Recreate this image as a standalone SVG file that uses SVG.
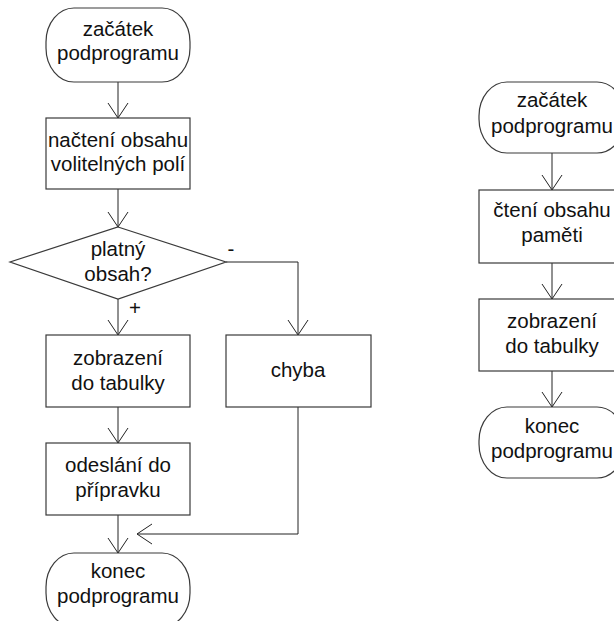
<svg xmlns="http://www.w3.org/2000/svg" width="614" height="621" viewBox="0 0 614 621">
  <style>
    .shape { fill: #ffffff; stroke: #3a3a3a; stroke-width: 1.2; }
    .conn { fill: none; stroke: #222222; stroke-width: 1; }
    text { font-family: "Liberation Sans", Arial, sans-serif; font-size: 20.5px; fill: #111111; text-anchor: middle; }
  </style>
  <defs>
    <marker id="v" viewBox="-17 -11 18 22" markerWidth="18" markerHeight="22" refX="0" refY="0" orient="auto" markerUnits="userSpaceOnUse">
      <path d="M-15,-10 L0,0 L-15,10" fill="none" stroke="#222222" stroke-width="1"/>
    </marker>
  </defs>

  <rect x="0" y="0" width="614" height="621" fill="#ffffff"/>

  <!-- connectors -->
  <g id="connectors">
    <path class="conn" d="M118,82 L118,118" marker-end="url(#v)"/>
    <path class="conn" d="M118,189 L118,227" marker-end="url(#v)"/>
    <path class="conn" d="M118,299 L118,335" marker-end="url(#v)"/>
    <path class="conn" d="M226,262 L298,262 L298,335" marker-end="url(#v)"/>
    <path class="conn" d="M118,407 L118,443" marker-end="url(#v)"/>
    <path class="conn" d="M118,515 L118,553" marker-end="url(#v)"/>
    <path class="conn" d="M298,407 L298,534 L137,534" marker-end="url(#v)"/>
    <path class="conn" d="M552,153 L552,190" marker-end="url(#v)"/>
    <path class="conn" d="M552,263 L552,299" marker-end="url(#v)"/>
    <path class="conn" d="M552,371 L552,407" marker-end="url(#v)"/>
  </g>

  <!-- left flow -->
  <g id="start-left">
    <rect class="shape" x="46" y="8" width="144" height="74" rx="28" ry="34"/>
    <text x="118" y="36">začátek</text>
    <text x="118" y="60">podprogramu</text>
  </g>
  <g id="load-fields">
    <rect class="shape" x="46" y="118" width="144" height="71"/>
    <text x="118" y="147">načtení obsahu</text>
    <text x="118" y="171">volitelných polí</text>
  </g>
  <g id="valid-check">
    <polygon class="shape" points="118,227 226,262 118,299 10,262"/>
    <text x="118" y="256">platný</text>
    <text x="118" y="281">obsah?</text>
  </g>
  <g id="label-minus"><text x="231" y="256">-</text></g>
  <g id="label-plus"><text x="135" y="315">+</text></g>
  <g id="show-left">
    <rect class="shape" x="46" y="335" width="144" height="72"/>
    <text x="118" y="365">zobrazení</text>
    <text x="118" y="390">do tabulky</text>
  </g>
  <g id="error">
    <rect class="shape" x="226" y="335" width="145" height="72"/>
    <text x="298" y="377">chyba</text>
  </g>
  <g id="send">
    <rect class="shape" x="46" y="443" width="144" height="72"/>
    <text x="118" y="472">odeslání do</text>
    <text x="118" y="497">přípravku</text>
  </g>
  <g id="end-left">
    <rect class="shape" x="46" y="553" width="144" height="74" rx="28" ry="34"/>
    <text x="118" y="578">konec</text>
    <text x="118" y="603">podprogramu</text>
  </g>

  <!-- right flow -->
  <g id="start-right">
    <rect class="shape" x="479" y="82" width="146" height="71" rx="28" ry="34"/>
    <text x="552" y="107">začátek</text>
    <text x="552" y="133">podprogramu</text>
  </g>
  <g id="read-memory">
    <rect class="shape" x="479" y="190" width="146" height="73"/>
    <text x="552" y="217">čtení obsahu</text>
    <text x="552" y="242">paměti</text>
  </g>
  <g id="show-right">
    <rect class="shape" x="479" y="299" width="146" height="72"/>
    <text x="552" y="328">zobrazení</text>
    <text x="552" y="353">do tabulky</text>
  </g>
  <g id="end-right">
    <rect class="shape" x="479" y="407" width="146" height="71" rx="28" ry="34"/>
    <text x="552" y="433">konec</text>
    <text x="552" y="458">podprogramu</text>
  </g>
</svg>
